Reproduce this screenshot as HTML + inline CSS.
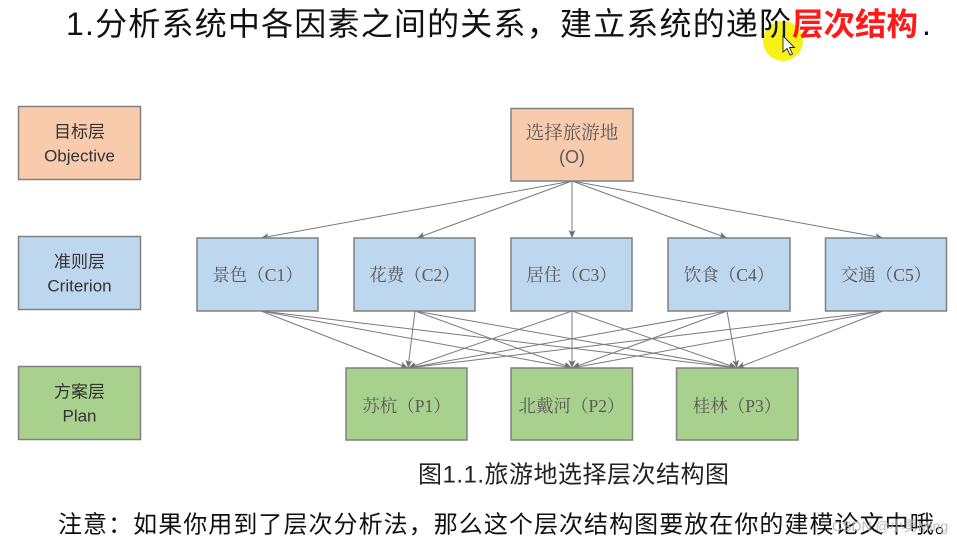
<!DOCTYPE html>
<html>
<head>
<meta charset="utf-8">
<style>
  html, body { margin:0; padding:0; background:#ffffff; }
  body { width:957px; height:547px; overflow:hidden; position:relative; }
  svg { position:absolute; left:0; top:0; }
  .sans { font-family:"Liberation Sans","Noto Sans CJK SC",sans-serif; }
  .serif { font-family:"Liberation Serif","Noto Serif CJK SC",serif; }
</style>
</head>
<body>
<svg width="957" height="547" viewBox="0 0 957 547" xmlns="http://www.w3.org/2000/svg">
  <defs>
    <marker id="ar" markerUnits="userSpaceOnUse" markerWidth="9" markerHeight="8" refX="8" refY="4" orient="auto">
      <path d="M0,0.5 L8,4 L0,7.5 L2,4 Z" fill="#6f6f6f"/>
    </marker>
  </defs>
  <rect x="0" y="0" width="957" height="547" fill="#ffffff"/>

  <!-- cursor highlight -->
  <circle cx="783" cy="41" r="20" fill="#f4f000" opacity="0.9"/>

  <!-- Title -->
  <text x="66" y="24" dominant-baseline="central" class="sans" font-size="32" fill="#111" style="letter-spacing:1.2px">1.分析系统中各因素之间的关系，建立系统的递阶</text>
  <text x="792" y="24" dominant-baseline="central" class="sans" font-size="31.5" fill="#ff1a1a" font-weight="bold">层次结构</text>
  <text x="922" y="24" dominant-baseline="central" class="sans" font-size="32" fill="#111">.</text>

  <!-- cursor arrow -->
  <path d="M783,36 L783,52 L787,48.5 L790,55 L792.5,54 L789.5,47.5 L794.5,47.5 Z" fill="#ffffff" stroke="#222" stroke-width="0.9"/>

  <!-- Left legend boxes -->
  <rect x="18.5" y="106.5" width="122" height="73" fill="#f8cbad" stroke="#808080" stroke-width="1.5"/>
  <text x="79.5" y="132" text-anchor="middle" dominant-baseline="central" class="sans" font-size="17" fill="#333">目标层</text>
  <text x="79.5" y="156" text-anchor="middle" dominant-baseline="central" class="sans" font-size="17" fill="#333">Objective</text>

  <rect x="18.5" y="236.5" width="122" height="73" fill="#bdd7ee" stroke="#808080" stroke-width="1.5"/>
  <text x="79.5" y="262" text-anchor="middle" dominant-baseline="central" class="sans" font-size="17" fill="#333">准则层</text>
  <text x="79.5" y="286" text-anchor="middle" dominant-baseline="central" class="sans" font-size="17" fill="#333">Criterion</text>

  <rect x="18.5" y="366.5" width="122" height="73" fill="#a9d18e" stroke="#808080" stroke-width="1.5"/>
  <text x="79.5" y="392" text-anchor="middle" dominant-baseline="central" class="sans" font-size="17" fill="#333">方案层</text>
  <text x="79.5" y="416" text-anchor="middle" dominant-baseline="central" class="sans" font-size="17" fill="#333">Plan</text>

  <!-- Connectors O -> C -->
  <g stroke="#7a7a7a" stroke-width="1" fill="none" marker-end="url(#ar)">
    <line x1="572" y1="181" x2="261" y2="238"/>
    <line x1="572" y1="181" x2="417" y2="238"/>
    <line x1="572" y1="181" x2="572" y2="238"/>
    <line x1="572" y1="181" x2="727" y2="238"/>
    <line x1="572" y1="181" x2="883" y2="238"/>
  </g>

  <!-- Connectors C -> P -->
  <g stroke="#7a7a7a" stroke-width="1" fill="none" marker-end="url(#ar)">
    <line x1="261" y1="311" x2="408" y2="368"/>
    <line x1="261" y1="311" x2="572" y2="368"/>
    <line x1="261" y1="311" x2="737" y2="368"/>
    <line x1="415" y1="311" x2="408" y2="368"/>
    <line x1="415" y1="311" x2="572" y2="368"/>
    <line x1="415" y1="311" x2="737" y2="368"/>
    <line x1="572" y1="311" x2="408" y2="368"/>
    <line x1="572" y1="311" x2="572" y2="368"/>
    <line x1="572" y1="311" x2="737" y2="368"/>
    <line x1="727" y1="311" x2="408" y2="368"/>
    <line x1="727" y1="311" x2="572" y2="368"/>
    <line x1="727" y1="311" x2="737" y2="368"/>
    <line x1="883" y1="311" x2="408" y2="368"/>
    <line x1="883" y1="311" x2="572" y2="368"/>
    <line x1="883" y1="311" x2="737" y2="368"/>
  </g>

  <!-- Objective box -->
  <rect x="511" y="108.5" width="122" height="72.5" fill="#f8cbad" stroke="#808080" stroke-width="1.5"/>
  <text x="572" y="134" text-anchor="middle" dominant-baseline="central" class="serif" font-size="18.5" fill="#595959">选择旅游地</text>
  <text x="572" y="157" text-anchor="middle" dominant-baseline="central" class="sans" font-size="18" fill="#595959">(O)</text>

  <!-- Criterion boxes -->
  <g stroke="#808080" stroke-width="1.5" fill="#bdd7ee">
    <rect x="197" y="238" width="121" height="73"/>
    <rect x="354" y="238" width="121" height="73"/>
    <rect x="511" y="238" width="121" height="73"/>
    <rect x="668" y="238" width="122" height="73"/>
    <rect x="825.5" y="238" width="121" height="73"/>
  </g>
  <g class="serif" font-size="17.5" fill="#595959" text-anchor="middle" dominant-baseline="central">
    <text x="257.5" y="275">景色（C1）</text>
    <text x="414.5" y="275">花费（C2）</text>
    <text x="571.5" y="275">居住（C3）</text>
    <text x="729" y="275">饮食（C4）</text>
    <text x="886" y="275">交通（C5）</text>
  </g>

  <!-- Plan boxes -->
  <g stroke="#808080" stroke-width="1.5" fill="#a9d18e">
    <rect x="346" y="368" width="121" height="72"/>
    <rect x="511" y="368" width="121.5" height="72"/>
    <rect x="676.5" y="368" width="121.5" height="72"/>
  </g>
  <g class="serif" font-size="17.5" fill="#595959" text-anchor="middle" dominant-baseline="central">
    <text x="406.5" y="406">苏杭（P1）</text>
    <text x="571.5" y="406">北戴河（P2）</text>
    <text x="737" y="406">桂林（P3）</text>
  </g>

  <!-- Caption -->
  <text x="418" y="475" dominant-baseline="central" class="sans" font-size="24" fill="#222" style="letter-spacing:0.5px">图1.1.旅游地选择层次结构图</text>

  <!-- Note -->
  <text x="58" y="525" dominant-baseline="central" class="sans" font-size="24" fill="#111" style="letter-spacing:1.05px">注意：如果你用到了层次分析法，那么这个层次结构图要放在你的建模论文中哦。</text>

  <!-- Watermark -->
  <text x="832" y="526" dominant-baseline="central" class="sans" font-size="14" fill="#b0b0b0" opacity="0.85">CSDN @小勇Ming</text>
</svg>
</body>
</html>
